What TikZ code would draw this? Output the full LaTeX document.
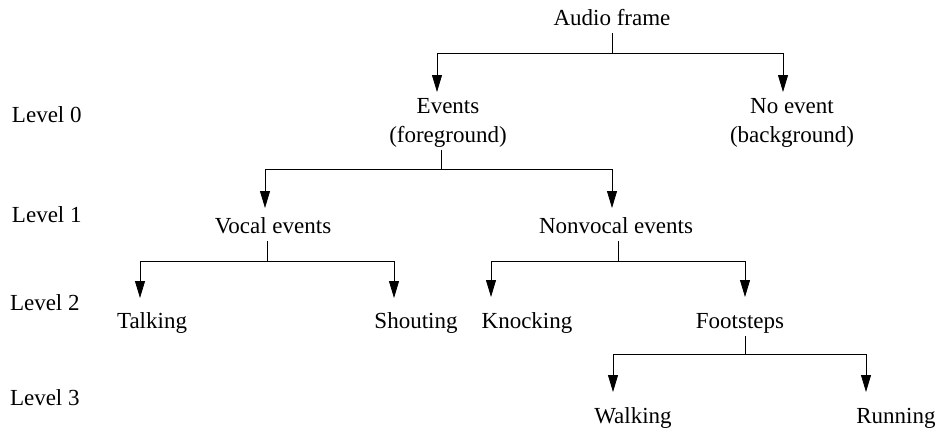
\documentclass[tikz,border=0pt]{standalone}
\usepackage{fontspec}
\setmainfont{Liberation Serif}
\usepackage{tikz}
\usetikzlibrary{arrows.meta}

\begin{document}
\begin{tikzpicture}[x=1pt,y=-1pt,
  lbl/.style={inner sep=0pt,outer sep=3pt,font=\fontsize{23}{29}\selectfont},
  one/.style={lbl,anchor=base,text depth=5pt},
  two/.style={lbl,anchor=base,align=center},
  lev/.style={lbl,anchor=base west,outer sep=0pt},
  tip/.style={-{Triangle[length=17pt,width=10pt]}},
  line width=0.8pt]
\useasboundingbox (0,0) rectangle (939,431);
% Niveis
\node[lev] (lev0) at (12,122) {Level 0};
\node[lev] (lev1) at (12,222) {Level 1};
\node[lev] (lev2) at (10,310) {Level 2};
\node[lev] (lev3) at (10,405) {Level 3};
% Classes
\node[one] (audio) at (612,25) {Audio frame};
\node[two] (events) at (448,142) {Events\\(foreground)};
\node[two] (noevent) at (792,142) {No event\\(background)};
\node[one] (vocal) at (273,233) {Vocal events};
\node[one] (nonvocal) at (616,233) {Nonvocal events};
\node[one] (talking) at (152,328) {Talking};
\node[one] (shouting) at (416,328) {Shouting};
\node[one] (knocking) at (527,328) {Knocking};
\node[one] (footsteps) at (740,328) {Footsteps};
\node[one] (walking) at (633,423) {Walking};
\node[one] (running) at (896,423) {Running};
% Bifurcacoes e pontas
\coordinate (f0) at (612,53);
\coordinate (f1) at (441,169);
\coordinate (f2) at (267,261);
\coordinate (f3) at (618,261);
\coordinate (f4) at (745,354);
\coordinate (t-events) at (437,92);
\coordinate (t-noevent) at (783,92);
\coordinate (t-vocal) at (265,208);
\coordinate (t-nonvocal) at (612,208);
\coordinate (t-talking) at (140,298);
\coordinate (t-shouting) at (394,298);
\coordinate (t-knocking) at (491,297);
\coordinate (t-footsteps) at (745,297);
\coordinate (t-walking) at (613,392);
\coordinate (t-running) at (866,392);
% Ligacoes
\draw (f0 |- audio.south) -- (f0);
\draw[tip] (f0) -| (t-events);
\draw[tip] (f0) -| (t-noevent);
\draw (f1 |- events.south) -- (f1);
\draw[tip] (f1) -| (t-vocal);
\draw[tip] (f1) -| (t-nonvocal);
\draw (f2 |- vocal.south) -- (f2);
\draw[tip] (f2) -| (t-talking);
\draw[tip] (f2) -| (t-shouting);
\draw (f3 |- nonvocal.south) -- (f3);
\draw[tip] (f3) -| (t-knocking);
\draw[tip] (f3) -| (t-footsteps);
\draw (f4 |- footsteps.south) -- (f4);
\draw[tip] (f4) -| (t-walking);
\draw[tip] (f4) -| (t-running);
\end{tikzpicture}
\end{document}
